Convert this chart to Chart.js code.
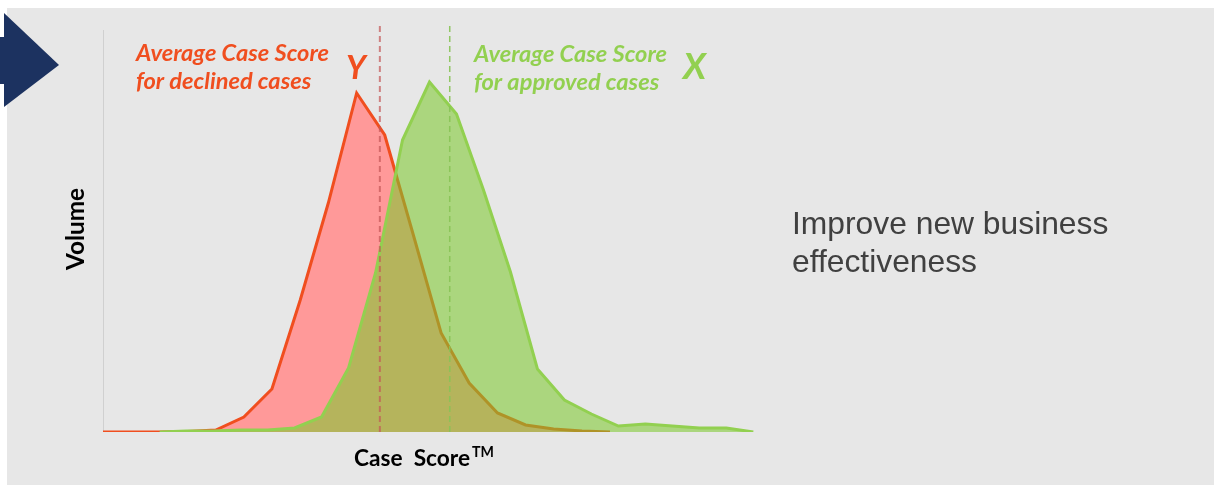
<!DOCTYPE html>
<html>
<head>
<meta charset="utf-8">
<script src="https://cdn.jsdelivr.net/npm/chart.js@4.4.1/dist/chart.umd.min.js"></script>
<style>
  html, body { margin: 0; padding: 0; background: #fff; overflow: hidden; }
  #wrap { position: relative; width: 1214px; height: 485px; }
  canvas { display: block; }
</style>
</head>
<body>
<div id="wrap"><canvas id="chart" width="1214" height="485"></canvas></div>
<script>
// Case score (arbitrary units, roughly 10 per bin) and volume
const declinedScores = [0, 10.4, 20.9, 31.3, 41.8, 52.2, 62.6, 73.1, 83.5, 94, 104.4, 114.8, 125.3, 135.7, 146.2, 156.6, 167, 177.5, 187.9];
const declinedVolume = [0, 0, 0, 0.5, 2, 15, 43, 132, 229, 339, 297, 199, 99, 49, 19, 7, 3, 1, 0];

const approvedScores = [21, 31, 41, 51, 61, 71, 81, 91, 101, 111, 121, 131, 141, 151, 161, 171, 181, 191, 201, 211, 221, 231, 241];
const approvedVolume = [0, 1, 1, 2, 2, 4, 15, 64, 159, 292, 350, 318, 242, 160, 63, 32, 18, 6, 8, 6, 4, 4, 0];

const declinedAverage = 102.6;
const approvedAverage = 128.5;

const scoreMax = 242;
const volumeMax = 407;
const axisTop = 402;

const RED = '#f04e1f';
const GREEN = '#92d050';

function fitFont(ctx, text, style, family, width) {
  ctx.font = style + ' 100px ' + family;
  const size = 100 * width / ctx.measureText(text).width;
  return style + ' ' + size.toFixed(1) + 'px ' + family;
}

const decor = {
  id: 'decor',
  beforeDraw(chart) {
    const ctx = chart.ctx;
    ctx.save();
    ctx.fillStyle = '#ffffff';
    ctx.fillRect(0, 0, chart.width, chart.height);
    ctx.fillStyle = '#e7e7e7';
    ctx.fillRect(7, 8, chart.width - 7, chart.height - 8);

    // navy arrow on the left edge
    ctx.fillStyle = '#1c3260';
    ctx.fillRect(0, 37, 6, 47);
    ctx.beginPath();
    ctx.moveTo(4, 13);
    ctx.lineTo(59, 65);
    ctx.lineTo(4, 107);
    ctx.closePath();
    ctx.fill();
    ctx.restore();
  },
  beforeDatasetsDraw(chart) {
    const ctx = chart.ctx;
    const { left, bottom } = chart.chartArea;
    const y = chart.scales.y;
    ctx.save();
    ctx.strokeStyle = '#d0d0d0';
    ctx.lineWidth = 1;
    ctx.beginPath();
    ctx.moveTo(left + 0.5, y.getPixelForValue(axisTop));
    ctx.lineTo(left + 0.5, bottom);
    ctx.stroke();
    ctx.restore();
  },
  afterDraw(chart) {
    const ctx = chart.ctx;
    ctx.save();
    ctx.textBaseline = 'alphabetic';
    ctx.textAlign = 'left';

    // annotations
    const noteFont = fitFont(ctx, 'Average Case Score', 'italic bold', 'Lato', 193);
    ctx.font = noteFont;
    ctx.fillStyle = RED;
    ctx.fillText('Average Case Score', 136, 61);
    ctx.fillText('for declined cases', 136, 89);
    ctx.font = fitFont(ctx, 'Y', 'italic bold', 'Lato', 20);
    ctx.fillText('Y', 346, 79);

    ctx.font = noteFont;
    ctx.fillStyle = GREEN;
    ctx.fillText('Average Case Score', 474, 62);
    ctx.fillText('for approved cases', 474, 90);
    ctx.font = fitFont(ctx, 'X', 'italic bold', 'Lato', 23);
    ctx.fillText('X', 683, 79);

    // axis titles
    ctx.fillStyle = '#000000';
    ctx.font = fitFont(ctx, 'Case  Score', 'bold', 'Lato', 116);
    ctx.fillText('Case  Score', 354, 466);
    ctx.font = fitFont(ctx, 'TM', 'bold', 'Lato', 22);
    ctx.fillText('TM', 472, 457);

    ctx.save();
    ctx.translate(84, 229);
    ctx.rotate(-Math.PI / 2);
    ctx.textAlign = 'center';
    ctx.font = fitFont(ctx, 'Volume', 'bold', 'Lato', 82);
    ctx.fillText('Volume', 0, 0);
    ctx.restore();

    // side note
    ctx.fillStyle = '#404040';
    ctx.font = fitFont(ctx, 'Improve new business', 'normal', '"Liberation Sans", Arial', 316);
    ctx.fillText('Improve new business', 792, 234);
    ctx.fillText('effectiveness', 792, 272);
    ctx.restore();
  }
};

const toPoints = (xs, ys) => xs.map((x, i) => ({ x: x, y: ys[i] }));

new Chart(document.getElementById('chart'), {
  type: 'line',
  data: {
    datasets: [
      {
        label: 'Average declined',
        data: [{ x: declinedAverage, y: 0 }, { x: declinedAverage, y: volumeMax }],
        borderColor: 'rgba(195, 85, 85, 0.7)',
        borderWidth: 2,
        borderDash: [6, 4],
        pointRadius: 0,
        fill: false,
        order: 1
      },
      {
        label: 'Average approved',
        data: [{ x: approvedAverage, y: 0 }, { x: approvedAverage, y: volumeMax }],
        borderColor: 'rgba(135, 195, 85, 0.9)',
        borderWidth: 1.5,
        borderDash: [6, 4],
        pointRadius: 0,
        fill: false,
        order: 2
      },
      {
        label: 'Approved',
        data: toPoints(approvedScores, approvedVolume),
        borderColor: GREEN,
        backgroundColor: 'rgba(125, 200, 45, 0.57)',
        borderWidth: 3,
        pointRadius: 0,
        tension: 0,
        fill: 'origin',
        order: 3
      },
      {
        label: 'Declined',
        data: toPoints(declinedScores, declinedVolume),
        borderColor: RED,
        backgroundColor: '#ff9999',
        borderWidth: 3,
        pointRadius: 0,
        tension: 0,
        fill: 'origin',
        order: 4
      }
    ]
  },
  options: {
    responsive: false,
    animation: false,
    layout: {
      padding: { left: 103, right: 458, top: 25, bottom: 53 }
    },
    plugins: {
      legend: { display: false },
      tooltip: { enabled: false }
    },
    scales: {
      x: { type: 'linear', min: 0, max: scoreMax, display: false },
      y: { min: 0, max: volumeMax, display: false }
    }
  },
  plugins: [decor]
});
</script>
</body>
</html>
